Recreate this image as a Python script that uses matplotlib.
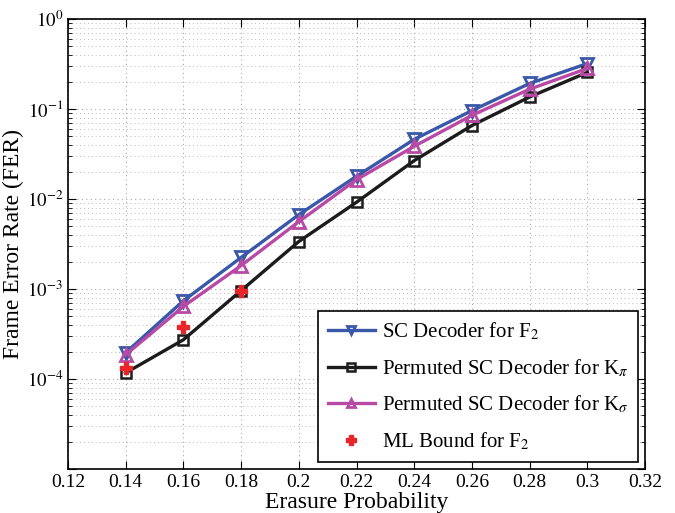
import numpy as np
import matplotlib
matplotlib.use('Agg')
import matplotlib.pyplot as plt
from matplotlib.ticker import LogLocator, NullFormatter

plt.rcParams['font.family'] = ['Liberation Serif', 'DejaVu Serif']
plt.rcParams['mathtext.fontset'] = 'stix'

# Data
p = [0.14, 0.16, 0.18, 0.20, 0.22, 0.24, 0.26, 0.28, 0.30]
fer_sc = [1.96e-4, 7.4e-4, 2.24e-3, 6.7e-3, 1.79e-2, 4.6e-2, 9.6e-2, 0.192, 0.32]
fer_kpi = [1.17e-4, 2.73e-4, 9.6e-4, 3.37e-3, 9.2e-3, 2.67e-2, 6.55e-2, 0.136, 0.255]
fer_ksig = [1.86e-4, 6.4e-4, 1.82e-3, 5.6e-3, 1.64e-2, 3.85e-2, 8.5e-2, 0.166, 0.282]
p_ml = [0.14, 0.16, 0.18]
fer_ml = [1.33e-4, 3.8e-4, 9.6e-4]

xticks = [0.12, 0.14, 0.16, 0.18, 0.2, 0.22, 0.24, 0.26, 0.28, 0.3, 0.32]
xticklabels = ['0.12', '0.14', '0.16', '0.18', '0.2', '0.22', '0.24', '0.26', '0.28', '0.3', '0.32']
yticks = [1e-5, 1e-4, 1e-3, 1e-2, 1e-1, 1e0]
yticklabels = ['', '$10^{-4}$', '$10^{-3}$', '$10^{-2}$', '$10^{-1}$', '$10^{0}$']

fig = plt.figure(figsize=(6.75, 5.13), dpi=100)
ax = fig.add_axes([0.1007, 0.0857, 0.8549, 0.8773])

ax.semilogy(p, fer_sc, '-v', color='#3a58a8', lw=2.4, ms=8, mfc='none', mew=2,
            label='SC Decoder for F$_2$')
ax.semilogy(p, fer_kpi, '-s', color='#1c1c1c', lw=2.4, ms=7, mfc='none', mew=1.8,
            label=r'Permuted SC Decoder for K$_\pi$')
ax.semilogy(p, fer_ksig, '-^', color='#b84aa6', lw=2.4, ms=8, mfc='none', mew=2,
            label=r'Permuted SC Decoder for K$_\sigma$')
ax.semilogy(p_ml, fer_ml, 'P', color='#e8262a', ms=9, ls='none',
            label='ML Bound for F$_2$')

ax.set_xlim(0.12, 0.32)
ax.set_ylim(1e-5, 1e0)
ax.set_xticks(xticks)
ax.set_xticklabels(xticklabels)
ax.set_yticks(yticks)
ax.set_yticklabels(yticklabels)
ax.yaxis.set_minor_locator(LogLocator(base=10, subs=np.arange(2, 10), numticks=20))
ax.yaxis.set_minor_formatter(NullFormatter())

ax.grid(True, which='major', ls=(0, (1, 3)), color='#aaaaaa', lw=0.8)
ax.grid(True, which='minor', axis='y', ls=(0, (1, 3)), color='#bbbbbb', lw=0.7)
ax.tick_params(which='both', direction='in', top=True, right=True, labelsize=14)
ax.tick_params(axis='y', labelsize=13.5)
ax.tick_params(which='major', length=6)
ax.tick_params(which='minor', length=3)
for s in ax.spines.values():
    s.set_linewidth(1.2)

ax.set_xlabel('Erasure Probability', fontsize=17, labelpad=1)
ax.set_ylabel('Frame Error Rate (FER)', fontsize=17, labelpad=2)

leg = ax.legend(loc='lower right', fontsize=15, fancybox=False, framealpha=1,
                edgecolor='black', handlelength=2.3, borderpad=0.45, labelspacing=0.72,
                borderaxespad=0.35, handletextpad=0.3, markerscale=0.75)
leg.get_frame().set_linewidth(1.2)

plt.savefig('out.png', dpi=100)
